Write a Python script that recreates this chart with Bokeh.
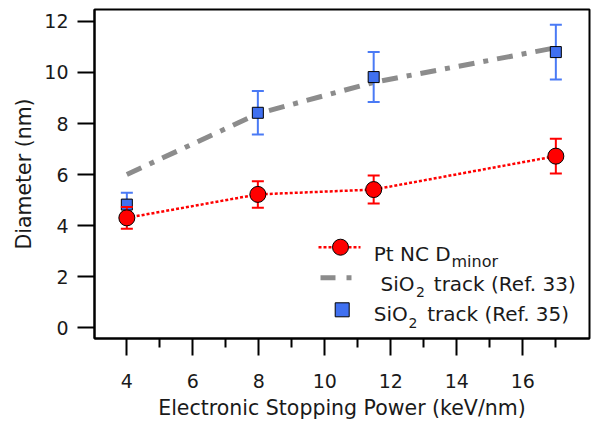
from bokeh.plotting import figure
from bokeh.models import Range1d, FixedTicker, ColumnDataSource
from bokeh.core.properties import value
from bokeh.embed import file_html
from bokeh.resources import INLINE

# ---------------- data ----------------
energy_pt = [4.0, 7.97, 11.48, 17.0]
dminor = [4.30, 5.22, 5.41, 6.72]
dminor_err = [0.43, 0.52, 0.55, 0.68]

energy_ref35 = [4.0, 7.97, 11.48, 17.0]
track35 = [4.82, 8.42, 9.82, 10.80]
track35_err = [0.46, 0.85, 0.98, 1.07]

energy_ref33 = [4.0, 8.0, 11.5, 17.0]
track33 = [6.0, 8.4, 9.62, 10.97]

x_ticks = [4, 6, 8, 10, 12, 14, 16]
x_minor_ticks = [5, 7, 9, 11, 13, 15, 17]
y_ticks = [0, 2, 4, 6, 8, 10, 12]

x_label = "Electronic Stopping Power (keV/nm)"
y_label = "Diameter (nm)"

# ---------------- styling ----------------
FONT = "DejaVu Sans"
TXT = "#1a1a1a"
RED = "#ff0000"
BLUE_FILL = "#4070f0"
BLUE_ERR = "#4a7af5"
GREY = "#8c8c8c"

FW, FH = 495, 329
p = figure(frame_width=FW, frame_height=FH,
           x_range=Range1d(3.02, 18.02), y_range=Range1d(-0.43, 12.47),
           min_border_left=94, min_border_right=2, min_border_top=9, min_border_bottom=87,
           output_backend="svg", toolbar_location=None)
p.extra_x_ranges = {"px": Range1d(0, FW)}
p.extra_y_ranges = {"py": Range1d(0, FH)}

p.xgrid.visible = False
p.ygrid.visible = False
p.outline_line_color = "black"
p.outline_line_width = 2
p.background_fill_color = "white"
p.border_fill_color = "white"

p.xaxis.ticker = FixedTicker(ticks=x_ticks, minor_ticks=x_minor_ticks)
p.yaxis.ticker = FixedTicker(ticks=y_ticks, minor_ticks=[])
p.xaxis.axis_label = x_label
p.yaxis.axis_label = y_label
for ax in (p.xaxis, p.yaxis):
    ax.axis_line_color = "black"
    ax.axis_line_width = 2
    ax.major_tick_line_color = "black"
    ax.major_tick_line_width = 2
    ax.minor_tick_line_color = "black"
    ax.minor_tick_line_width = 2
    ax.major_tick_in = 0
    ax.major_tick_out = 17
    ax.minor_tick_in = 0
    ax.minor_tick_out = 9
    ax.major_label_text_font = FONT
    ax.major_label_text_font_size = "19px"
    ax.major_label_text_color = TXT
    ax.axis_label_text_font = FONT
    ax.axis_label_text_font_size = "20.5px"
    ax.axis_label_text_font_style = "normal"
    ax.axis_label_text_color = TXT
p.xaxis.major_label_standoff = 18
p.xaxis.axis_label_standoff = 5
p.yaxis.major_label_standoff = 9
p.yaxis.axis_label_standoff = 5

# ---------------- series ----------------
# SiO2 track (Ref. 33): grey dash-dot line
p.line(energy_ref33, track33, line_color=GREY, line_width=5, line_dash="16 9 5 9")

# SiO2 track (Ref. 35): blue squares with error bars
lo35 = [v - e for v, e in zip(track35, track35_err)]
hi35 = [v + e for v, e in zip(track35, track35_err)]
p.segment(x0=energy_ref35, y0=lo35, x1=energy_ref35, y1=hi35, line_color=BLUE_ERR, line_width=2)
p.scatter(energy_ref35 + energy_ref35, lo35 + hi35, marker="dash", size=12,
          line_color=BLUE_ERR, line_width=2)
p.scatter(energy_ref35, track35, marker="square", size=11, fill_color=BLUE_FILL,
          line_color="black", line_width=1)

# Pt NC D_minor: red dotted line, error bars, circles
lopt = [v - e for v, e in zip(dminor, dminor_err)]
hipt = [v + e for v, e in zip(dminor, dminor_err)]
p.line(energy_pt, dminor, line_color=RED, line_width=2.5, line_dash="3 2")
p.segment(x0=energy_pt, y0=lopt, x1=energy_pt, y1=hipt, line_color=RED, line_width=2)
p.scatter(energy_pt + energy_pt, lopt + hipt, marker="dash", size=12,
          line_color=RED, line_width=2)
p.scatter(energy_pt, dminor, marker="circle", size=16, fill_color=RED,
          line_color="black", line_width=1)

# ---------------- legend (drawn in frame pixel space) ----------------
FRAME_LEFT, FRAME_BOTTOM = 94, 338
def px(xi):
    return xi - FRAME_LEFT
def py(yi):
    return FRAME_BOTTOM - yi

# samples
p.line([px(318), px(360)], [py(246.7), py(246.7)], line_color=RED, line_width=2.5,
       line_dash="3 2", x_range_name="px", y_range_name="py")
p.scatter([px(340)], [py(246.7)], marker="circle", size=16, fill_color=RED,
          line_color="black", line_width=1, x_range_name="px", y_range_name="py")
p.line([px(320), px(351)], [py(277.3), py(277.3)], line_color=GREY, line_width=5,
       line_dash="15 11 5", x_range_name="px", y_range_name="py")
p.scatter([px(341.7)], [py(309.3)], marker="square", size=14, fill_color=BLUE_FILL,
          line_color="black", line_width=1, x_range_name="px", y_range_name="py")

# texts: (text, x, baseline)
main_txt = [("Pt NC D", 373.3, 253.0), ("SiO", 380.0, 283.0),
            ("track (Ref. 33)", 433.3, 283.0), ("SiO", 373.3, 313.7),
            ("track (Ref. 35)", 426.7, 313.7)]
sub_minor = [("minor", 451.0, 261.3)]
sub_two = [("2", 415.5, 291.3), ("2", 408.0, 322.0)]

def put(items, size):
    src = ColumnDataSource(dict(x=[px(a[1]) for a in items], y=[py(a[2]) for a in items],
                                t=[a[0] for a in items]))
    p.text(x="x", y="y", text="t", source=src, text_font=value(FONT),
           text_font_size=value(size), text_color=TXT, text_baseline="alphabetic",
           text_align="left", x_range_name="px", y_range_name="py")

put(main_txt, "20px")
put(sub_minor, "16px")
put(sub_two, "14px")

open("out.html", "w").write(file_html(p, INLINE))
